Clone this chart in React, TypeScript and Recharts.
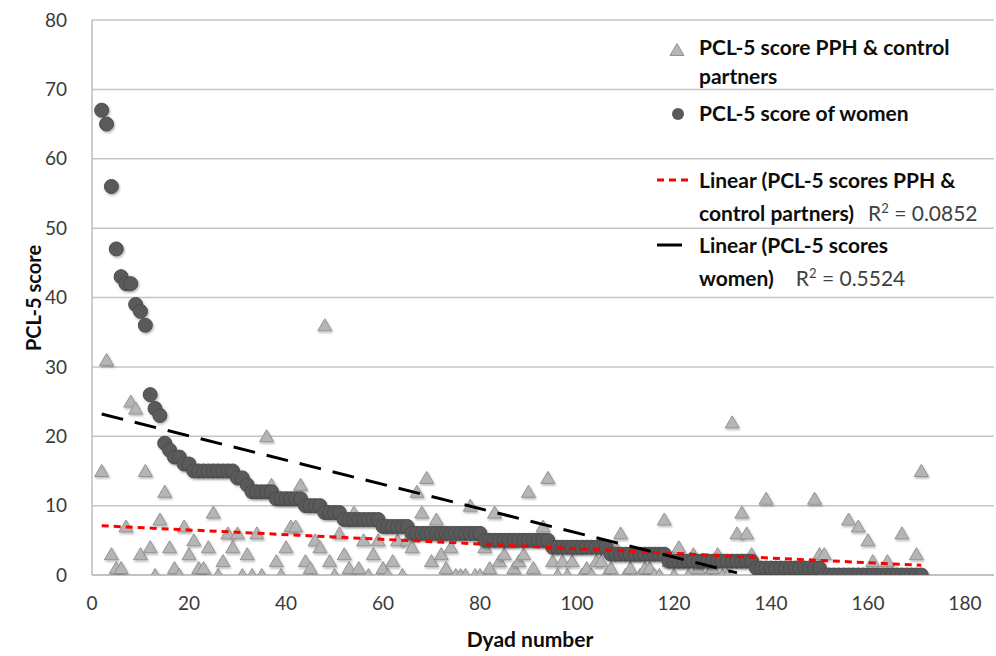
import React from 'react';
import { ScatterChart, Scatter, XAxis, YAxis, CartesianGrid, Legend, Label } from 'recharts';

const FONT = 'Lato, "Open Sans", sans-serif';

// dyad number for every couple (x axis)
const dyadNumbers = [
    2, 3, 4, 5, 6, 7, 8, 9, 10, 11,
    12, 13, 14, 15, 16, 17, 18, 19, 20, 21,
    22, 23, 24, 25, 26, 27, 28, 29, 30, 31,
    32, 33, 34, 35, 36, 37, 38, 39, 40, 41,
    42, 43, 44, 45, 46, 47, 48, 49, 50, 51,
    52, 53, 54, 55, 56, 57, 58, 59, 60, 61,
    62, 63, 64, 65, 66, 67, 68, 69, 70, 71,
    72, 73, 74, 75, 76, 77, 78, 79, 80, 81,
    82, 83, 84, 85, 86, 87, 88, 89, 90, 91,
    92, 93, 94, 95, 96, 97, 98, 99, 100, 101,
    102, 103, 104, 105, 106, 107, 108, 109, 110, 111,
    112, 113, 114, 115, 116, 117, 118, 119, 120, 121,
    122, 123, 124, 125, 126, 127, 128, 129, 130, 131,
    132, 133, 134, 135, 136, 137, 138, 139, 140, 141,
    142, 143, 144, 145, 146, 147, 148, 149, 150, 151,
    152, 153, 154, 155, 156, 157, 158, 159, 160, 161,
    162, 163, 164, 165, 166, 167, 168, 169, 170, 171,
];

// PCL-5 score of PPH & control partners
const partnerScores = [
    15, 31, 3, 1, 1, 7, 25, 24, 3, 15,
    4, 0, 8, 12, 4, 1, 0, 7, 3, 5,
    1, 1, 4, 9, 0, 2, 6, 4, 6, 0,
    3, 0, 6, 0, 20, 13, 2, 0, 4, 7,
    7, 13, 2, 1, 5, 4, 36, 2, 0, 6,
    3, 1, 9, 1, 5, 0, 3, 5, 1, 0,
    2, 5, 0, 5, 4, 12, 9, 14, 2, 8,
    3, 1, 4, 0, 0, 0, 10, 0, 0, 4,
    1, 9, 2, 3, 5, 1, 2, 3, 12, 1,
    5, 7, 14, 2, 0, 2, 0, 2, 4, 0,
    1, 0, 2, 2, 0, 1, 4, 6, 0, 1,
    3, 0, 1, 1, 0, 0, 8, 2, 0, 4,
    2, 0, 3, 1, 2, 0, 1, 3, 0, 0,
    22, 6, 9, 6, 3, 0, 0, 11, 0, 0,
    0, 0, 0, 0, 0, 0, 0, 11, 3, 3,
    0, 0, 0, 0, 8, 0, 7, 0, 5, 2,
    0, 0, 2, 0, 0, 6, 0, 0, 3, 15,
];

// PCL-5 score of women
const womenScores = [
    67, 65, 56, 47, 43, 42, 42, 39, 38, 36,
    26, 24, 23, 19, 18, 17, 17, 16, 16, 15,
    15, 15, 15, 15, 15, 15, 15, 15, 14, 14,
    13, 12, 12, 12, 12, 12, 11, 11, 11, 11,
    11, 11, 10, 10, 10, 10, 9, 9, 9, 9,
    8, 8, 8, 8, 8, 8, 8, 8, 7, 7,
    7, 7, 7, 7, 6, 6, 6, 6, 6, 6,
    6, 6, 6, 6, 6, 6, 6, 6, 6, 5,
    5, 5, 5, 5, 5, 5, 5, 5, 5, 5,
    5, 5, 5, 4, 4, 4, 4, 4, 4, 4,
    4, 4, 4, 4, 4, 3, 3, 3, 3, 3,
    3, 3, 3, 3, 3, 3, 3, 2, 2, 2,
    2, 2, 2, 2, 2, 2, 2, 2, 2, 2,
    2, 2, 2, 2, 2, 1, 1, 1, 1, 1,
    1, 1, 1, 1, 1, 1, 1, 1, 1, 0,
    0, 0, 0, 0, 0, 0, 0, 0, 0, 0,
    0, 0, 0, 0, 0, 0, 0, 0, 0, 0,
];

// linear trend lines, end points
const partnerTrendX = [2, 171];
const partnerTrendY = [7.1, 1.4];
const womenTrendX = [2, 133];
const womenTrendY = [23.2, 0.3];

const xTicks = [0, 20, 40, 60, 80, 100, 120, 140, 160, 180];
const yTicks = [0, 10, 20, 30, 40, 50, 60, 70, 80];

const toPoints = (xs: number[], ys: number[]) => xs.map((x, i) => ({ x, y: ys[i] }));

const partnerData = toPoints(dyadNumbers, partnerScores);
const womenData = toPoints(dyadNumbers, womenScores);
const partnerTrend = toPoints(partnerTrendX, partnerTrendY);
const womenTrend = toPoints(womenTrendX, womenTrendY);

const TriangleMarker = (props: any) => {
    const { cx, cy } = props;
    if (cx == null || cy == null) return <g />;
    return (
        <polygon
            points={`${cx},${cy - 6.5} ${cx - 7},${cy + 5.5} ${cx + 7},${cy + 5.5}`}
            fill="#b5b5b5"
            stroke="#939393"
            strokeWidth={1}
            filter="url(#markerShadow)"
        />
    );
};

const CircleMarker = (props: any) => {
    const { cx, cy } = props;
    if (cx == null || cy == null) return <g />;
    return <circle cx={cx} cy={cy} r={7} fill="#5a5a5a" stroke="#4d4d4d" strokeWidth={1} filter="url(#markerShadow)" />;
};

const NoMarker = () => <g />;

const legendText: React.CSSProperties = {
    position: 'absolute',
    left: 699,
    fontFamily: FONT,
    fontWeight: 700,
    fontSize: 21,
    color: '#0d0d0d',
    lineHeight: '28px',
    whiteSpace: 'nowrap',
};

const rSquared: React.CSSProperties = {
    fontWeight: 400,
    fontSize: 21,
    color: '#404040',
};

const ChartLegend = () => (
    <div style={{ position: 'relative', width: 996, height: 300 }}>
        <svg style={{ position: 'absolute', left: 0, top: 0 }} width={996} height={300}>
            <polygon points="677,43.5 670,55.5 684,55.5" fill="#b5b5b5" stroke="#939393" />
            <circle cx={678} cy={114} r={6} fill="#5a5a5a" />
            <line x1={657} y1={180} x2={693} y2={180} stroke="#ff0000" strokeWidth={3} strokeDasharray="7 5" />
            <line x1={657} y1={245} x2={682} y2={245} stroke="#000" strokeWidth={3} />
        </svg>
        <div style={{ ...legendText, top: 33 }}>PCL-5 score PPH &amp; control</div>
        <div style={{ ...legendText, top: 62 }}>partners</div>
        <div style={{ ...legendText, top: 99 }}>PCL-5 score of women</div>
        <div style={{ ...legendText, top: 166 }}>Linear (PCL-5 scores PPH &amp;</div>
        <div style={{ ...legendText, top: 194 }}>
            control partners)
            <span style={{ ...rSquared, marginLeft: 14 }}>
                R<sup style={{ fontSize: 13 }}>2</sup> = 0.0852
            </span>
        </div>
        <div style={{ ...legendText, top: 231 }}>Linear (PCL-5 scores</div>
        <div style={{ ...legendText, top: 259 }}>
            women)
            <span style={{ ...rSquared, marginLeft: 22 }}>
                R<sup style={{ fontSize: 13 }}>2</sup> = 0.5524
            </span>
        </div>
    </div>
);

export default function App() {
    return (
        <div style={{ position: 'absolute', left: 0, top: 0, width: 996, height: 656, background: '#fff' }}>
            <ScatterChart width={996} height={656} margin={{ top: 20, right: 2, bottom: 0, left: 0 }}>
                <defs>
                    <filter id="markerShadow" x="-50%" y="-50%" width="200%" height="200%">
                        <feDropShadow dx={1} dy={1.5} stdDeviation={1.2} floodColor="#000" floodOpacity={0.3} />
                    </filter>
                </defs>

                <CartesianGrid vertical={false} stroke="#c4c4c4" strokeWidth={1.5} />

                <XAxis
                    type="number"
                    dataKey="x"
                    domain={[0, 186]}
                    ticks={xTicks}
                    allowDataOverflow
                    height={81}
                    axisLine={{ stroke: '#bdbdbd', strokeWidth: 1.5 }}
                    tickLine={false}
                    tickSize={4}
                    tickMargin={18}
                    tick={{ fill: '#3a3a3a', fontSize: 19, fontFamily: FONT }}
                >
                    <Label
                        content={() => (
                            <text x={530} y={647} textAnchor="middle" fontFamily={FONT} fontWeight={700} fontSize={21} fill="#0d0d0d">
                                Dyad number
                            </text>
                        )}
                    />
                </XAxis>

                <YAxis
                    type="number"
                    dataKey="y"
                    domain={[0, 80]}
                    ticks={yTicks}
                    allowDataOverflow
                    width={92}
                    axisLine={{ stroke: '#bdbdbd', strokeWidth: 1.5 }}
                    tickLine={false}
                    tickSize={4}
                    tickMargin={21}
                    tick={{ fill: '#3a3a3a', fontSize: 19, fontFamily: FONT }}
                >
                    <Label
                        content={() => (
                            <text
                                x={33}
                                y={298}
                                textAnchor="middle"
                                dominantBaseline="central"
                                transform="rotate(-90 33 298)"
                                fontFamily={FONT}
                                fontWeight={700}
                                fontSize={20}
                                fill="#0d0d0d"
                            >
                                PCL-5 score
                            </text>
                        )}
                    />
                </YAxis>

                <Legend
                    layout="vertical"
                    align="center"
                    verticalAlign="middle"
                    wrapperStyle={{ left: 0, top: 0, width: 996, height: 300 }}
                    content={() => <ChartLegend />}
                />

                <Scatter name="PCL-5 score PPH & control partners" data={partnerData} shape={TriangleMarker} isAnimationActive={false} />
                <Scatter name="PCL-5 score of women" data={womenData} shape={CircleMarker} isAnimationActive={false} />
                <Scatter
                    name="Linear (PCL-5 scores PPH & control partners)"
                    data={partnerTrend}
                    shape={NoMarker}
                    line={{ stroke: '#ff0000', strokeWidth: 3, strokeDasharray: '7 5' }}
                    isAnimationActive={false}
                />
                <Scatter
                    name="Linear (PCL-5 scores women)"
                    data={womenTrend}
                    shape={NoMarker}
                    line={{ stroke: '#000000', strokeWidth: 3, strokeDasharray: '22 12' }}
                    isAnimationActive={false}
                />
            </ScatterChart>
        </div>
    );
}
